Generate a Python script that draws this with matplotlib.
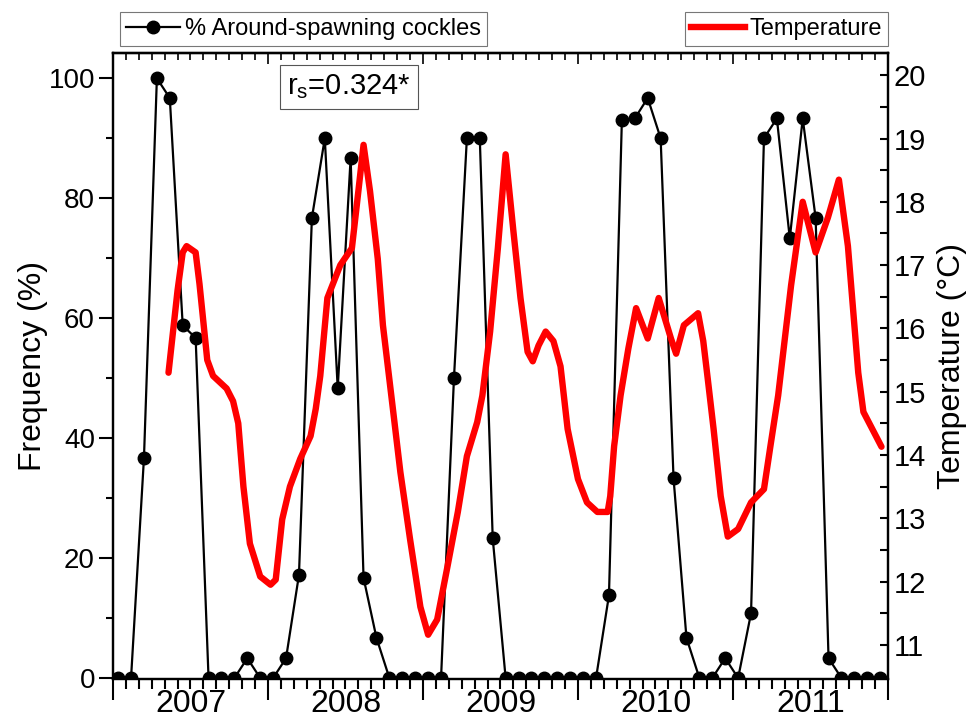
import matplotlib
matplotlib.use("Agg")
import matplotlib.pyplot as plt
from matplotlib.lines import Line2D
import numpy as np

plt.rcParams['font.family'] = ['Liberation Sans', 'DejaVu Sans']
plt.rcParams['mathtext.fontset'] = 'custom'
plt.rcParams['mathtext.rm'] = 'Liberation Sans'

# monthly share of around-spawning cockles (%), one value per month
freq = [0, 0, 36.7, 100, 96.7, 58.8, 56.7, 0, 0, 0,
        3.3, 0, 0, 3.3, 17.2, 76.7, 90, 48.3, 86.7, 16.7,
        6.7, 0, 0, 0, 0, 0, 50, 90, 90, 23.3,
        0, 0, 0, 0, 0, 0, 0, 0, 13.8, 93.1,
        93.3, 96.7, 90, 33.3, 6.7, 0, 0, 3.3, 0, 10.8,
        90, 93.3, 73.3, 93.3, 76.7, 3.3, 0, 0, 0, 0]
month_freq = [i + 0.4 for i in range(len(freq))]

# temperature curve (months since start, deg C)
month_temp = [4.3, 5.0, 5.4, 5.7, 6.4, 6.7, 7.3, 7.75, 8.8, 9.3,
              9.7, 10.1, 10.6, 11.4, 12.2, 12.6, 13.1, 13.7, 14.5, 15.3,
              15.7, 16.05, 16.6, 17.6, 18.5, 19.0, 19.4, 19.9, 20.5, 20.9,
              21.7, 22.25, 23.0, 23.8, 24.4, 25.1, 25.9, 26.7, 27.4, 28.2,
              28.6, 29.2, 29.8, 30.4, 31.0, 31.55, 32.1, 32.5, 32.95, 33.5,
              34.1, 34.65, 35.2, 36.0, 36.7, 37.5, 38.3, 38.5, 38.8, 39.3,
              39.9, 40.5, 41.4, 42.25, 43.2, 43.6, 44.2, 45.3, 45.7, 46.05,
              46.5, 47.05, 47.6, 48.4, 49.4, 50.4, 50.9, 51.5, 52.5, 53.4,
              54.4, 55.35, 56.2, 56.9, 57.7, 58.1, 59.5]
temp = [15.3, 16.6, 17.2, 17.3, 17.2, 16.7, 15.5, 15.25, 15.05, 14.85,
        14.5, 13.5, 12.6, 12.08, 11.95, 12.03, 12.98, 13.5, 13.94, 14.3,
        14.73, 15.25, 16.48, 17.0, 17.27, 18.17, 18.9, 18.17, 17.1, 16.05,
        14.68, 13.73, 12.67, 11.6, 11.16, 11.4, 12.24, 13.1, 13.98, 14.52,
        14.94, 15.95, 17.27, 18.75, 17.54, 16.48, 15.63, 15.48, 15.73, 15.95,
        15.8, 15.4, 14.41, 13.62, 13.25, 13.1, 13.1, 13.35, 14.14, 14.94,
        15.68, 16.32, 15.84, 16.48, 15.84, 15.6, 16.05, 16.24, 15.8, 15.2,
        14.41, 13.35, 12.71, 12.83, 13.25, 13.46, 14.14, 14.94, 16.68, 18.0,
        17.2, 17.75, 18.35, 17.3, 15.3, 14.68, 14.13]

years = ['2007', '2008', '2009', '2010', '2011']

fig = plt.figure(figsize=(9.73, 7.2), dpi=100)
ax = fig.add_axes([0.1161, 0.0569, 0.7965, 0.8694])
ax2 = ax.twinx()

ax.plot(month_freq, freq, color='k', lw=1.6, marker='o', ms=9, zorder=2)
ax2.plot(month_temp, temp, color='#ff0000', lw=4.6,
         solid_joinstyle='round', solid_capstyle='round', zorder=3)
ax.set_zorder(1)
ax2.set_zorder(2)
ax2.patch.set_visible(False)

ax.set_xlim(0, 60)
ax.set_ylim(-0.17, 104.2)
ax2.set_ylim(10.46, 20.35)

for a in (ax, ax2):
    for s in a.spines.values():
        s.set_linewidth(1.6)

# left axis
ax.set_yticks(range(0, 101, 20))
ax.set_yticks(range(10, 100, 20), minor=True)
ax.tick_params(axis='y', which='major', direction='out', length=10, width=1.5,
               labelsize=20, pad=3)
ax.tick_params(axis='y', which='minor', direction='out', length=5, width=1.5)
ax.set_ylabel('Frequency (%)', fontsize=23, labelpad=0)

# right axis
ax2.set_yticks(range(11, 21))
ax2.set_yticks(np.arange(10.5, 20.5, 1.0), minor=True)
ax2.tick_params(axis='y', which='both', direction='in', length=6, width=1.5,
                labelsize=21, pad=4)
ax2.set_ylabel('Temperature (°C)', fontsize=23, labelpad=8)

# bottom axis: long ticks at year boundaries, short monthly ticks
ax.set_xticks(range(0, 61, 12))
ax.set_xticks(range(0, 61), minor=True)
ax.set_xticklabels([])
ax.tick_params(axis='x', which='major', direction='out', length=15, width=1.5)
ax.tick_params(axis='x', which='minor', direction='out', length=7, width=1.5)

lab = ax.secondary_xaxis('bottom')
lab.set_xticks(range(6, 60, 12), years)
lab.tick_params(axis='x', length=0, labelsize=23, pad=7)
lab.spines['bottom'].set_visible(False)

top = ax.secondary_xaxis('top')
top.set_xticks(range(0, 61, 12))
top.set_xticks(range(0, 61), minor=True)
top.set_xticklabels([])
top.tick_params(axis='x', which='major', direction='in', length=8, width=1.2)
top.tick_params(axis='x', which='minor', direction='in', length=5, width=1.2)
top.spines['top'].set_linewidth(1.6)

# legends above the plot
h1 = Line2D([], [], color='k', lw=1.6, marker='o', ms=9)
h2 = Line2D([], [], color='#ff0000', lw=4.6)
leg_kw = dict(fontsize=17, frameon=True, fancybox=False, borderaxespad=0,
              handlelength=2.3, handletextpad=0.2, borderpad=0.25)
l1 = fig.legend([h1], ['% Around-spawning cockles'], loc='upper left',
                bbox_to_anchor=(120 / 973, 1 - 12 / 720), **leg_kw)
l2 = fig.legend([h2], ['Temperature'], loc='upper right',
                bbox_to_anchor=(888 / 973, 1 - 12 / 720), **leg_kw)
for lg in (l1, l2):
    lg.get_frame().set_edgecolor('#555555')
    lg.get_frame().set_linewidth(0.8)

fig.text(349 / 973, 1 - 87 / 720, r'r$_\mathrm{s}$=0.324*', fontsize=21,
         ha='center', va='center',
         bbox=dict(boxstyle='square,pad=0.25', fc='white', ec='#555555', lw=0.8))

fig.savefig('out.png', dpi=100)
